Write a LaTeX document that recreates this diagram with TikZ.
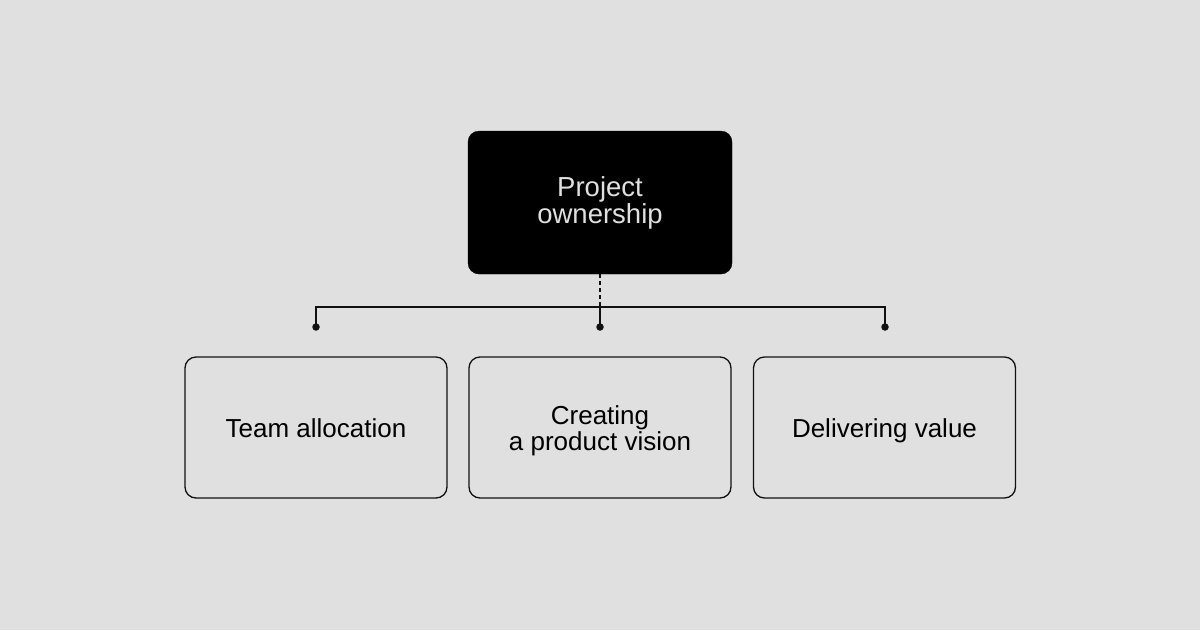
\documentclass[tikz,border=0pt]{standalone}
\usepackage{fontspec}
\setmainfont{Liberation Sans}
\definecolor{bg}{HTML}{E0E0E0}
\definecolor{ink}{HTML}{111111}
\begin{document}
\begin{tikzpicture}[x=1pt,y=-1pt,
  txt/.style={font=\fontsize{26}{24}\selectfont, align=center, text height=19pt, text depth=0pt},
  toptxt/.style={font=\fontsize{27.5}{23}\selectfont, align=center, text height=19pt, text depth=0pt, text=bg},
  topbox/.style={fill=black, draw=black, rounded corners=11pt, minimum width=264pt, minimum height=143pt, inner sep=0pt},
  subbox/.style={draw=ink, line width=1.3pt, rounded corners=11pt, minimum width=262pt, minimum height=141pt, inner sep=0pt},
  conn/.style={draw=ink, line width=1.3pt},
  dotend/.style={circle, fill=ink, inner sep=0pt, minimum size=7.5pt}]
\fill[bg] (0,0) rectangle (1200,630);
\useasboundingbox (0,0) rectangle (1200,630);
\node[topbox] (top) at (600,202.5) {};
\node[toptxt] (toptext) at (600,213.5) {Project\\ownership};
\node[subbox] (a) at (316,427.5) {};
\node[subbox] (b) at (600,427.5) {};
\node[subbox] (c) at (884.5,427.5) {};
\node[txt] (at) at (316,428) {Team allocation};
\node[txt] (bt) at (600,440.5) {Creating\\a product vision};
\node[txt] (ct) at (884.5,428) {Delivering value};
\coordinate (j) at (600,307);
\coordinate (jl) at (316,307);
\coordinate (jr) at (885,307);
\node[dotend] (da) at (316,327) {};
\node[dotend] (db) at (600,327) {};
\node[dotend] (dc) at (885,327) {};
\draw[conn, dash pattern=on 4pt off 3pt] (top.south) -- (j);
\draw[conn] (da.center) -- (jl) -- (jr) -- (dc.center);
\draw[conn] (j) -- (db.center);
\end{tikzpicture}
\end{document}
